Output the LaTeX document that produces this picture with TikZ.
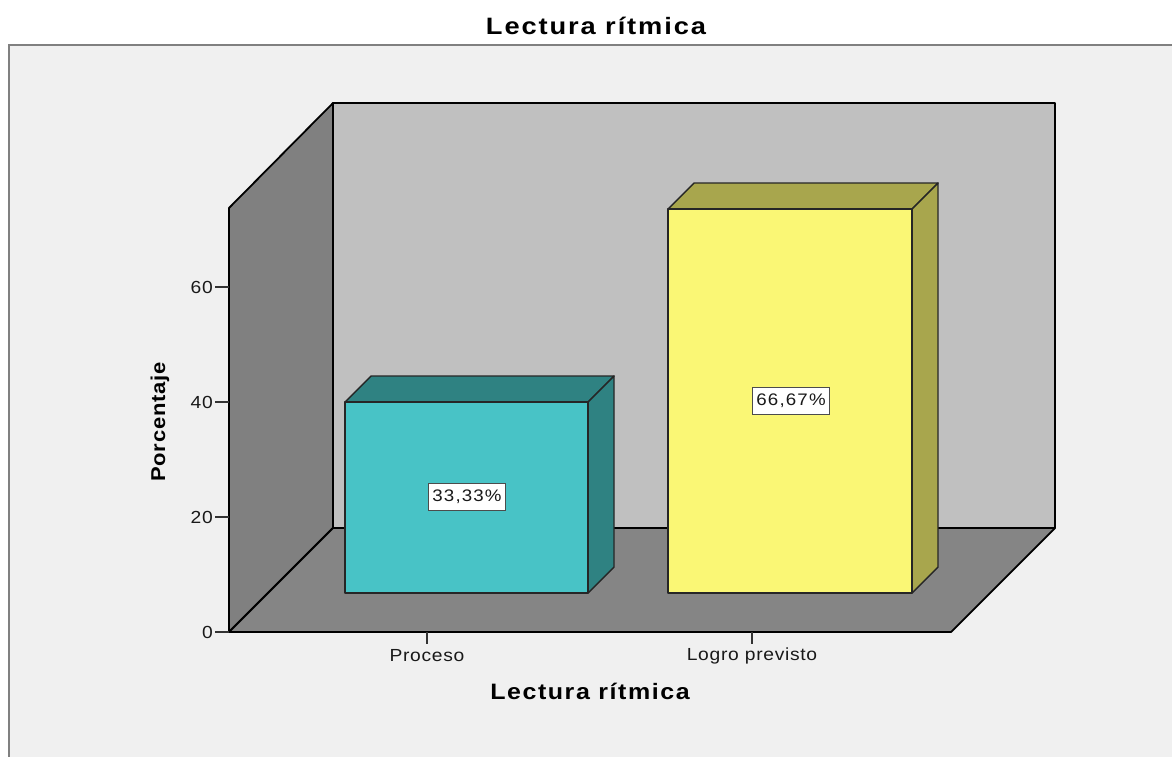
\documentclass[tikz,border=0pt]{standalone}
\usepackage{fontspec}
\setmainfont{Liberation Sans}
\definecolor{framebg}{HTML}{F0F0F0}
\definecolor{framedraw}{HTML}{808080}
\definecolor{leftwall}{HTML}{808080}
\definecolor{backwall}{HTML}{C0C0C0}
\definecolor{floorc}{HTML}{858585}
\definecolor{tealfront}{HTML}{48C3C6}
\definecolor{tealdark}{HTML}{2F8282}
\definecolor{yelfront}{HTML}{FAF775}
\definecolor{yeldark}{HTML}{A8A64D}
\tikzset{
  wall/.style={draw=black, line width=1.8pt, line join=round},
  barface/.style={draw=black!85, line width=1.4pt, line join=round},
  tick/.style={draw=black!80, line width=1.1pt},
  ticklabel/.style={font=\fontsize{17.5}{17.5}\selectfont\addfontfeature{FakeStretch=1.1,LetterSpace=4}, text=black!90, inner sep=0pt},
  vallabel/.style={font=\fontsize{16.7}{16.7}\selectfont\addfontfeature{FakeStretch=1.12,LetterSpace=7}, fill=white, draw=black!70, line width=0.9pt, inner xsep=4pt, inner ysep=7pt, text=black!90},
  titlelabel/.style={font=\bfseries\fontsize{22.3}{22.3}\selectfont\addfontfeature{FakeStretch=1.12,LetterSpace=7}, inner sep=0pt},
}
\begin{document}
\begin{tikzpicture}[x=1pt,y=-1pt]
\useasboundingbox (0,0) rectangle (1172,756);
\clip (0,0) rectangle (1172,756);
\fill[white] (0,0) rectangle (1172,756);
\draw[fill=framebg, draw=framedraw, line width=1.6pt] (9,45) rectangle (1190,780);
% walls
\filldraw[wall, fill=leftwall] (229,632) -- (229,208) -- (333,103) -- (333,528) -- cycle;
\filldraw[wall, fill=backwall] (333,103) -- (1055,103) -- (1055,528) -- (333,528) -- cycle;
\filldraw[wall, fill=floorc] (229,632) -- (951,632) -- (1055,528) -- (333,528) -- cycle;
% value ticks
\foreach \v/\yy in {0/632,20/517,40/402,60/287}{
  \draw[tick] (215,\yy) -- (229,\yy);
  \node[ticklabel, anchor=east] (t\v) at (213,\yy) {\v};
}
% category ticks
\draw[tick] (427,632) -- (427,644);
\draw[tick] (752,632) -- (752,644);
% bar 1
\filldraw[barface, fill=tealdark] (345,402) -- (371,376) -- (614,376) -- (588,402) -- cycle;
\filldraw[barface, fill=tealdark] (588,402) -- (614,376) -- (614,567) -- (588,593) -- cycle;
\filldraw[barface, fill=tealfront] (345,402) rectangle (588,593);
% bar 2
\filldraw[barface, fill=yeldark] (668,209) -- (694,183) -- (938,183) -- (912,209) -- cycle;
\filldraw[barface, fill=yeldark] (912,209) -- (938,183) -- (938,567) -- (912,593) -- cycle;
\filldraw[barface, fill=yelfront] (668,209) rectangle (912,593);
% value labels
\node[vallabel] (v1) at (467,497) {33,33\%};
\node[vallabel] (v2) at (791,401) {66,67\%};
% category labels
\node[ticklabel] (c1) at (427,656) {Proceso};
\node[ticklabel] (c2) at (752,656) {Logro previsto};
% titles
\node[titlelabel, font=\bfseries\fontsize{23.7}{23.7}\selectfont\addfontfeature{FakeStretch=1.15,LetterSpace=8}] (title) at (596,26) {Lectura rítmica};
\node[titlelabel] (xtitle) at (590,691) {Lectura rítmica};
\node[titlelabel, font=\bfseries\fontsize{20}{20}\selectfont\addfontfeature{FakeStretch=1.1,LetterSpace=4}, rotate=90] (ytitle) at (160,422) {Porcentaje};
\end{tikzpicture}
\end{document}
